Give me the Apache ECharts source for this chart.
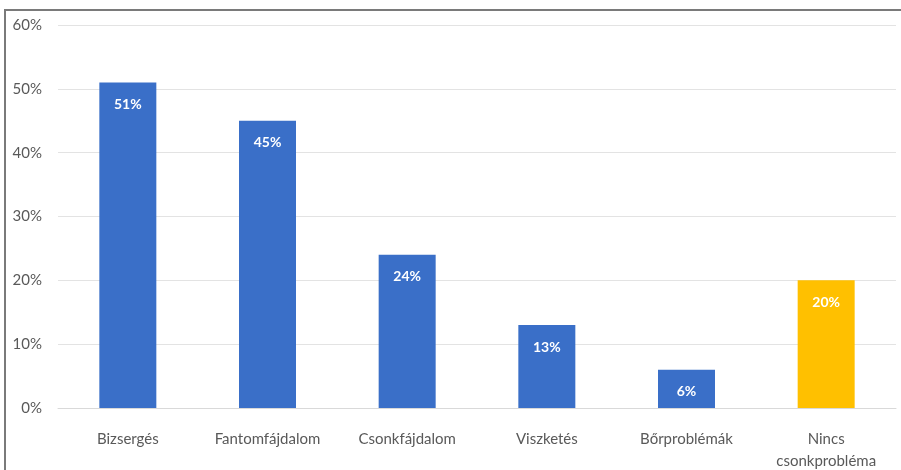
<!DOCTYPE html>
<html>
<head>
<meta charset="utf-8">
<script src="https://cdn.jsdelivr.net/npm/echarts@6/dist/echarts.min.js"></script>
<style>html,body{margin:0;padding:0;background:#fff;}#c{width:901px;height:470px;}</style>
</head>
<body>
<div id="c"></div>
<script>
const categories = ['Bizsergés', 'Fantomfájdalom', 'Csonkfájdalom', 'Viszketés', 'Bőrproblémák', 'Nincs\ncsonkprobléma'];
const values = [51, 45, 24, 13, 6, 20];
const barColors = ['#3a6fc8', '#3a6fc8', '#3a6fc8', '#3a6fc8', '#3a6fc8', '#ffc000'];
const yTicks = [0, 10, 20, 30, 40, 50, 60];

const chart = echarts.init(document.getElementById('c'), null, {renderer: 'canvas'});
const font = 'Lato, "Open Sans", sans-serif';
chart.setOption({
  animation: false,
  graphic: [{
    type: 'polyline', shape: {points: [[5, 470], [5, 10], [901, 10]]},
    style: {fill: 'none', stroke: '#7a7a7a', lineWidth: 2}, silent: true, z: -1
  }],
  grid: {left: 58, right: 5, top: 25, bottom: 62, outerBoundsMode: 'none', containLabel: false},
  xAxis: {
    type: 'category', data: categories,
    axisLine: {lineStyle: {color: '#d9d9d9', width: 1}},
    axisTick: {show: false},
    axisLabel: {color: '#595959', fontSize: 15, fontFamily: font, margin: 20, lineHeight: 22}
  },
  yAxis: {
    type: 'value', min: yTicks[0], max: yTicks[yTicks.length - 1], interval: 10,
    axisLabel: {formatter: '{value}%', color: '#595959', fontSize: 15, fontFamily: font, margin: 16},
    splitLine: {lineStyle: {color: '#e3e3e3', width: 1}},
    axisLine: {show: false}, axisTick: {show: false}
  },
  series: [{
    type: 'bar', barWidth: 57,
    data: values.map((v, i) => ({value: v, itemStyle: {color: barColors[i]}})),
    label: {show: true, position: 'insideTop', distance: 15, formatter: '{c}%', color: '#fff', fontSize: 14, fontWeight: 'bold', fontFamily: font}
  }]
});
</script>
</body>
</html>
